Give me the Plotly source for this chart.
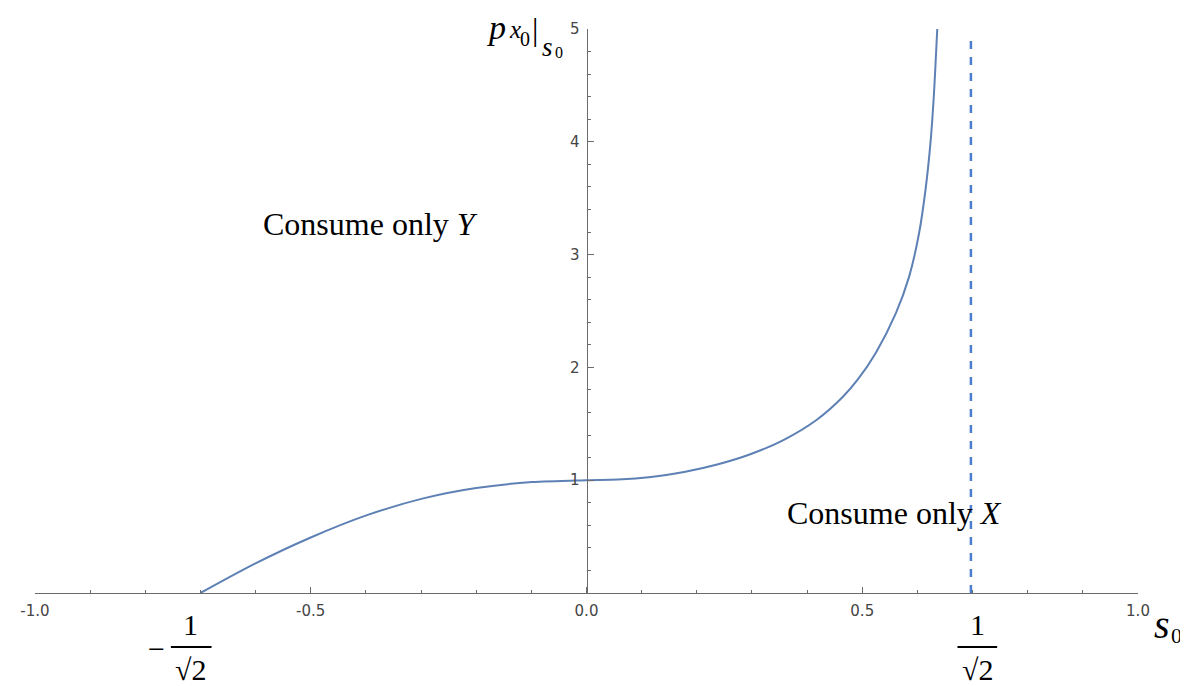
import plotly.graph_objects as go

# ---- data ----
s_vals = [-0.700, -0.602, -0.500, -0.398, -0.296, -0.200, -0.099, 0.0, 0.057, 0.117,
          0.177, 0.237, 0.297, 0.357, 0.417, 0.465, 0.492, 0.525, 0.561, 0.585,
          0.603, 0.615, 0.624, 0.630, 0.636]
p_vals = [0.0, 0.258, 0.492, 0.690, 0.839, 0.931, 0.983, 1.0, 1.006, 1.029,
          1.073, 1.139, 1.230, 1.356, 1.534, 1.740, 1.893, 2.133, 2.481, 2.805,
          3.189, 3.586, 4.008, 4.426, 5.0]
asym_s = [0.697, 0.697]
asym_p = [0.0, 4.9]
x_ticks = [-1.0, -0.5, 0.0, 0.5, 1.0]
x_ticklabels = ["-1.0", "-0.5", "0.0", "0.5", "1.0"]
y_ticks = [1, 2, 3, 4, 5]
y_ticklabels = ["1", "2", "3", "4", "5"]

W, H = 1188, 686
OFF = 8  # page body margin
# plot area in screen pixels
PX0, PX1, PY0, PY1 = 26, 1138, 29, 593
L, T = PX0 - OFF, PY0 - OFF
R, B = W - (PX1 - OFF), H - (PY1 - OFF)
PW, PH = PX1 - PX0, PY1 - PY0


def px(x, y):
    return (x - PX0) / PW, 1 - (y - PY0) / PH


fig = go.Figure()
fig.add_trace(go.Scatter(x=s_vals, y=p_vals, mode="lines",
                         line=dict(color="#5E81B5", width=2, shape="spline", smoothing=0.8),
                         hoverinfo="skip", cliponaxis=False))
fig.add_trace(go.Scatter(x=asym_s, y=asym_p, mode="lines",
                         line=dict(color="#4A7FCF", width=2.5, dash="8px,8px"),
                         hoverinfo="skip", cliponaxis=False))

tickfont = dict(family="DejaVu Sans, Verdana, sans-serif", size=15, color="#454545")
fig.update_layout(
    width=W, height=H,
    margin=dict(l=L, r=R, t=T, b=B, pad=0),
    paper_bgcolor="white", plot_bgcolor="white",
    showlegend=False,
    xaxis=dict(range=[-1, 1], showgrid=False, zeroline=False,
               showline=True, linecolor="#6b6b6b", linewidth=1,
               ticks="inside", ticklen=6, tickcolor="#6b6b6b", tickwidth=1,
               tickvals=x_ticks, ticktext=x_ticklabels, tickfont=tickfont,
               ticklabelstandoff=4,
               minor=dict(dtick=0.1, ticks="inside", ticklen=3.5, tickcolor="#6b6b6b", showgrid=False),
               fixedrange=True),
    yaxis=dict(range=[0, 5], showgrid=False, zeroline=False,
               anchor="free", position=0.5,
               showline=True, linecolor="#6b6b6b", linewidth=1,
               ticks="inside", ticklen=6, tickcolor="#6b6b6b", tickwidth=1,
               tickvals=y_ticks, ticktext=y_ticklabels, tickfont=tickfont,
               ticklabelstandoff=4,
               minor=dict(dtick=0.2, ticks="inside", ticklen=3.5, tickcolor="#6b6b6b", showgrid=False),
               fixedrange=True),
)

serif = "Liberation Serif, Times New Roman, serif"
ann = []


def text(x, y, t, size, xanchor="center", yanchor="middle"):
    ax, ay = px(x, y)
    ann.append(dict(x=ax, y=ay, xref="paper", yref="paper", text=t, showarrow=False,
                    font=dict(family=serif, size=size, color="black"),
                    xanchor=xanchor, yanchor=yanchor, borderpad=0))


text(255, 224, "Consume only <i>Y</i>", 32, xanchor="left")
text(783, 513, "Consume only <i>X</i>", 32, xanchor="left")

# y axis label p_{x0}|_{s0}
text(491, 27, "<i>p</i>", 34)
text(510, 29, "<i>x</i>", 25)
text(520, 39, "0", 20)
text(530, 29, "|", 32)
text(543, 47, "<i>s</i>", 27)
text(554, 53, "0", 16)

# x axis label s_0
text(1162, 624, "<i>s</i>", 40)
text(1177, 635, "0", 22)

# -1/sqrt2 and 1/sqrt2
text(148, 648, "\u2212", 30)
text(183, 624, "1", 30)
text(183, 669, "\u221a2", 30)
text(976, 624, "1", 30)
text(976, 669, "\u221a2", 30)

shapes = []
for x0, x1 in [(163, 204), (956, 996)]:
    a0, b0 = px(x0, 647)
    a1, b1 = px(x1, 647)
    shapes.append(dict(type="line", xref="paper", yref="paper", x0=a0, y0=b0, x1=a1, y1=b1,
                       line=dict(color="black", width=2)))

fig.update_layout(annotations=ann, shapes=shapes)
fig.write_html("out.html")
